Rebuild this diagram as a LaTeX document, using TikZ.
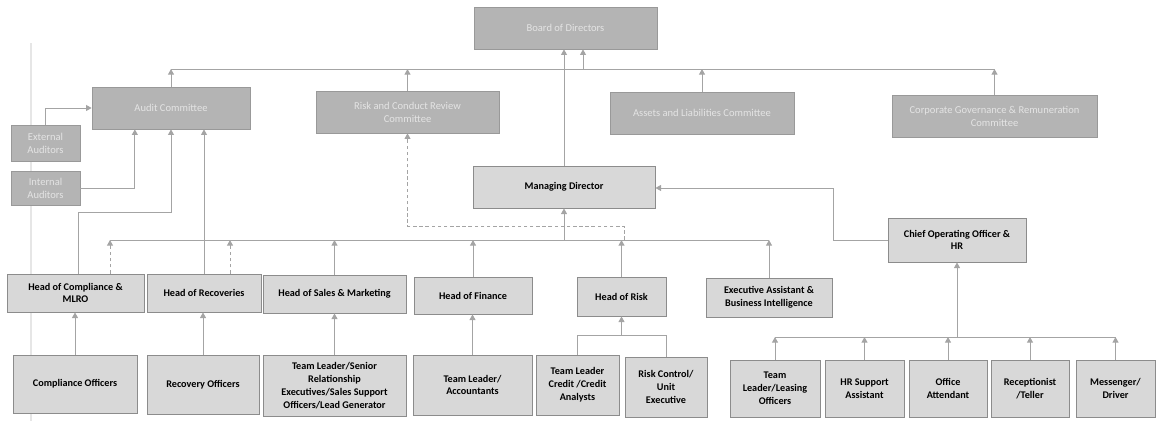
\documentclass[tikz,border=0pt]{standalone}
\usepackage{fontspec}
\setmainfont{Carlito}
\usetikzlibrary{arrows.meta,calc}
\definecolor{darkbox}{HTML}{B4B4B4}
\definecolor{darktext}{HTML}{E4E4E4}
\definecolor{lightbox}{HTML}{D8D8D8}
\definecolor{borderc}{HTML}{8C8C8C}
\definecolor{linec}{HTML}{A4A4A4}
\definecolor{scanc}{HTML}{E6E6E6}
\tikzset{
  dbox/.style={draw=darkbox!85!black, line width=0.4pt, fill=darkbox, text=darktext, align=center, inner sep=1pt, font=\fontsize{6}{7.4}\selectfont},
  lbox/.style={draw=borderc, line width=0.5pt, fill=lightbox, text=black, align=center, inner sep=1pt, font=\fontsize{5.8}{7.3}\selectfont\bfseries},
  conn/.style={draw=linec, line width=0.55pt},
  arr/.style={conn, -{Triangle[width=3.4pt,length=3.2pt]}},
  dsh/.style={dash pattern=on 2pt off 1.5pt}
}
\begin{document}
\begin{tikzpicture}[x=0.02cm,y=-0.02cm]
\useasboundingbox (0,0) rectangle (1159,421);
\draw[scanc, line width=0.6pt] (31,43) -- (31,421);

% top level
\node[dbox, minimum width=3.66cm, minimum height=0.84cm] (board) at (565.5,28) {Board of Directors};
\node[dbox, minimum width=3.16cm, minimum height=0.84cm] (audit) at (171,108) {Audit Committee};
\node[dbox, minimum width=3.66cm, minimum height=0.84cm] (rcrc) at (407.5,112) {Risk and Conduct Review\\Committee};
\node[dbox, minimum width=3.68cm, minimum height=0.84cm] (alco) at (702,113) {Assets and Liabilities Committee};
\node[dbox, minimum width=4.10cm, minimum height=0.84cm] (cgrc) at (994.5,116) {Corporate Governance \& Remuneration\\Committee};
\node[dbox, minimum width=1.38cm, minimum height=0.72cm] (ext) at (45.5,143) {External\\Auditors};
\node[dbox, minimum width=1.38cm, minimum height=0.68cm] (int) at (45.5,188) {Internal\\Auditors};

\node[lbox, minimum width=3.64cm, minimum height=0.84cm] (md) at (564,187) {Managing Director};
\node[lbox, minimum width=2.76cm, minimum height=0.88cm] (coo) at (957,240) {Chief Operating Officer \&\\HR};

% heads
\node[lbox, minimum width=2.74cm, minimum height=0.76cm] (hoc) at (75.5,293) {Head of Compliance \&\\MLRO};
\node[lbox, minimum width=2.28cm, minimum height=0.76cm] (hor) at (204,293) {Head of Recoveries};
\node[lbox, minimum width=2.86cm, minimum height=0.76cm] (hos) at (334.5,294) {Head of Sales \& Marketing};
\node[lbox, minimum width=2.36cm, minimum height=0.74cm] (hof) at (473,295.5) {Head of Finance};
\node[lbox, minimum width=1.78cm, minimum height=0.78cm] (hrisk) at (621.5,296.5) {Head of Risk};
\node[lbox, minimum width=2.52cm, minimum height=0.78cm] (exec) at (769,297.5) {Executive Assistant \&\\Business Intelligence};

% teams
\node[lbox, minimum width=2.48cm, minimum height=1.16cm] (compoff) at (75,384) {Compliance Officers};
\node[lbox, minimum width=2.24cm, minimum height=1.18cm] (recoff) at (203,384.5) {Recovery Officers};
\node[lbox, minimum width=2.86cm, minimum height=1.22cm] (salest) at (334.5,385.5) {Team Leader/Senior\\Relationship\\Executives/Sales Support\\Officers/Lead Generator};
\node[lbox, minimum width=2.38cm, minimum height=1.20cm] (acct) at (472.5,385) {Team Leader/\\Accountants};
\node[lbox, minimum width=1.66cm, minimum height=1.20cm] (tlcc) at (577.5,385) {Team Leader\\Credit /Credit\\Analysts};
\node[lbox, minimum width=1.64cm, minimum height=1.20cm] (rcu) at (666,387) {Risk Control/\\Unit\\Executive};
\node[lbox, minimum width=1.80cm, minimum height=1.14cm] (leas) at (775,388.5) {Team\\Leader/Leasing\\Officers};
\node[lbox, minimum width=1.58cm, minimum height=1.14cm] (hrsa) at (864.5,388.5) {HR Support\\Assistant};
\node[lbox, minimum width=1.56cm, minimum height=1.14cm] (offa) at (948,388.5) {Office\\Attendant};
\node[lbox, minimum width=1.56cm, minimum height=1.14cm] (recep) at (1030,388.5) {Receptionist\\/Teller};
\node[lbox, minimum width=1.58cm, minimum height=1.14cm] (mess) at (1115.5,388.5) {Messenger/\\Driver};

% committee bus
\coordinate (cL) at (171,69);
\coordinate (cR) at (995,69);
\coordinate (cB) at (583,69);
\draw[conn] (cL) -- (cR);
\draw[arr] (cB) -- (cB |- board.south);
\foreach \n in {audit,rcrc,alco,cgrc} \draw[arr] (\n.north) -- (\n.north |- cL);
\draw[arr] (md.north) -- (md.north |- board.south);

% auditors
\draw[arr] (ext.north) |- (audit.west);
\draw[arr] (int.east) -| ($(audit.south west)!0.272!(audit.south east)$);

% heads bus
\coordinate (hL) at (110,240);
\coordinate (hR) at (769,240);
\coordinate (hR2) at (230,240);
\coordinate (hM) at (564,240);
\draw[conn] (hL) -- (hR);
\draw[arr] (hM) -- (md.south);
\draw[arr,dsh] (hoc.north -| hL) -- (hL);
\draw[arr,dsh] (hor.north -| hR2) -- (hR2);
\foreach \n in {hos,hof,hrisk,exec} \draw[arr] (\n.north) -- (\n.north |- hL);

% heads to audit
\coordinate (a1) at (78,212);
\draw[arr] (hoc.north -| a1) -- (a1) -| (audit.south);
\draw[arr] (hor.north) -- (hor.north |- audit.south);

% dashed risk to RCRC
\coordinate (d1) at (624,226);
\draw[arr,dsh] (d1 |- hL) -- (d1) -| (rcrc.south);

% COO to MD
\coordinate (m1) at (833,188);
\draw[arr] (coo.west) -| (m1) -- (m1 -| md.east);

% teams to heads
\draw[arr] (compoff.north) -- (compoff.north |- hoc.south);
\draw[arr] (recoff.north) -- (recoff.north |- hor.south);
\draw[arr] (salest.north) -- (salest.north |- hos.south);
\draw[arr] (acct.north) -- (acct.north |- hof.south);
\coordinate (r1) at (621.5,335);
\draw[conn] (tlcc.north) -- (tlcc.north |- r1) -- (rcu.north |- r1) -- (rcu.north);
\draw[arr] (r1) -- (hrisk.south);

% COO team
\coordinate (t1) at (957,337);
\draw[conn] (leas.north |- t1) -- (mess.north |- t1);
\foreach \n in {leas,hrsa,offa,recep,mess} \draw[arr] (\n.north) -- (\n.north |- t1);
\draw[arr] (t1) -- (coo.south);
\end{tikzpicture}
\end{document}
